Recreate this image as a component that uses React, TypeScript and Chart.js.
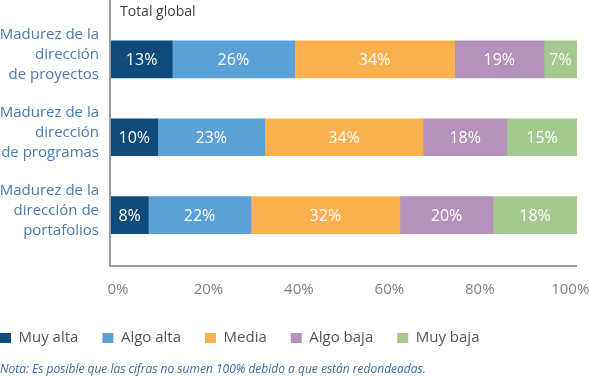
import React, { useEffect, useRef } from "react";
import { Chart, registerables } from "chart.js";

Chart.register(...registerables);

// ---- data ----
const categories = [
  ["Madurez de la", "dirección", "de proyectos"],
  ["Madurez de la", "dirección", "de programas"],
  ["Madurez de la", "dirección de", "portafolios"],
];
const seriesNames = ["Muy alta", "Algo alta", "Media", "Algo baja", "Muy baja"];
const muyAlta = [13, 10, 8];
const algoAlta = [26, 23, 22];
const media = [34, 34, 32];
const algoBaja = [19, 18, 20];
const muyBaja = [7, 15, 18];
const seriesColors = ["#0f4c7c", "#5aa1d8", "#fbb04e", "#b592bb", "#a3c98f"];
const tickValues = [0, 20, 40, 60, 80, 100];
const panelTitle = "Total global";
const noteText =
  "Nota: Es posible que las cifras no sumen 100% debido a que están redondeadas.";

const FONT = "'Open Sans', 'Noto Sans', sans-serif";

export default function App() {
  const ref = useRef<HTMLCanvasElement | null>(null);

  useEffect(() => {
    document.body.style.margin = "0";
    const canvas = ref.current;
    if (!canvas) return;

    const series = [muyAlta, algoAlta, media, algoBaja, muyBaja];
    const rowTotals = categories.map((_, i) =>
      series.reduce((s, arr) => s + arr[i], 0)
    );

    const datasets = series.map((arr, k) => ({
      label: seriesNames[k],
      data: arr.map((v, i) => (v / rowTotals[i]) * 100),
      backgroundColor: seriesColors[k],
      borderWidth: 0,
      barThickness: 37,
    }));

    const decorPlugin = {
      id: "decor",
      beforeDatasetsDraw(chart: any) {
        const { ctx, chartArea } = chart;
        ctx.save();
        ctx.strokeStyle = "#9b9b9b";
        ctx.lineWidth = 2;
        const yBottom = chartArea.bottom + 12;
        ctx.beginPath();
        ctx.moveTo(chartArea.left - 1, 0);
        ctx.lineTo(chartArea.left - 1, yBottom + 1);
        ctx.moveTo(chartArea.left - 2, yBottom);
        ctx.lineTo(chartArea.right, yBottom);
        ctx.stroke();

        ctx.fillStyle = "#404040";
        ctx.font = `14px ${FONT}`;
        ctx.textAlign = "left";
        ctx.textBaseline = "middle";
        ctx.fillText(panelTitle, chartArea.left + 9, 12);

        ctx.fillStyle = "#3a6ea5";
        ctx.font = `italic 12px ${FONT}`;
        ctx.fillText(noteText, 0, 370);
        ctx.restore();
      },
      afterDatasetsDraw(chart: any) {
        const { ctx } = chart;
        ctx.save();
        ctx.fillStyle = "#ffffff";
        ctx.font = `16px ${FONT}`;
        ctx.textAlign = "center";
        ctx.textBaseline = "middle";
        series.forEach((arr, k) => {
          const meta = chart.getDatasetMeta(k);
          meta.data.forEach((bar: any, i: number) => {
            const p = bar.getProps(["x", "base", "y"], true);
            ctx.fillText(arr[i] + "%", (p.x + p.base) / 2, p.y + 1);
          });
        });
        ctx.restore();
      },
    };

    const chart = new Chart(canvas, {
      type: "bar",
      data: { labels: categories as any, datasets },
      options: {
        indexAxis: "y",
        responsive: false,
        animation: false,
        layout: { padding: { top: 20.5, right: 12, bottom: 23.5, left: -24 } },
        plugins: {
          legend: {
            position: "bottom",
            align: "start",
            labels: {
              boxWidth: 11,
              boxHeight: 10,
              padding: 24,
              color: "#555555",
              font: { family: FONT, size: 15 },
            },
          },
          tooltip: { enabled: false },
        },
        scales: {
          x: {
            type: "linear",
            stacked: true,
            min: 0,
            max: 100,
            display: false,
          },
          xl: {
            type: "linear",
            position: "bottom",
            min: -1.55,
            max: 101.5,
            grid: { display: false, drawTicks: false },
            border: { display: false },
            ticks: {
              padding: 27,
              color: "#808080",
              font: { family: FONT, size: 15 },
              callback: (v: any) => v + "%",
            },
            afterBuildTicks: (s: any) => {
              s.ticks = tickValues.map((v) => ({ value: v }));
            },
            afterFit: (s: any) => {
              s.height = 52.5;
              s.paddingLeft = 0;
              s.paddingRight = 0;
            },
          },
          y: {
            type: "category",
            stacked: true,
            grid: { display: false, drawTicks: false },
            border: { display: false },
            ticks: {
              padding: 12,
              color: "#4a7bb0",
              labelOffset: -4.5,
              font: { family: FONT, size: 15, lineHeight: 1.3333 },
            },
            afterFit: (s: any) => {
              s.width = 135;
              s.paddingTop = 0;
              s.paddingBottom = 0;
            },
          },
        } as any,
      },
      plugins: [decorPlugin],
    });

    return () => chart.destroy();
  }, []);

  return (
    <div style={{ width: 589, height: 379 }}>
      <canvas ref={ref} width={589} height={379} />
    </div>
  );
}
